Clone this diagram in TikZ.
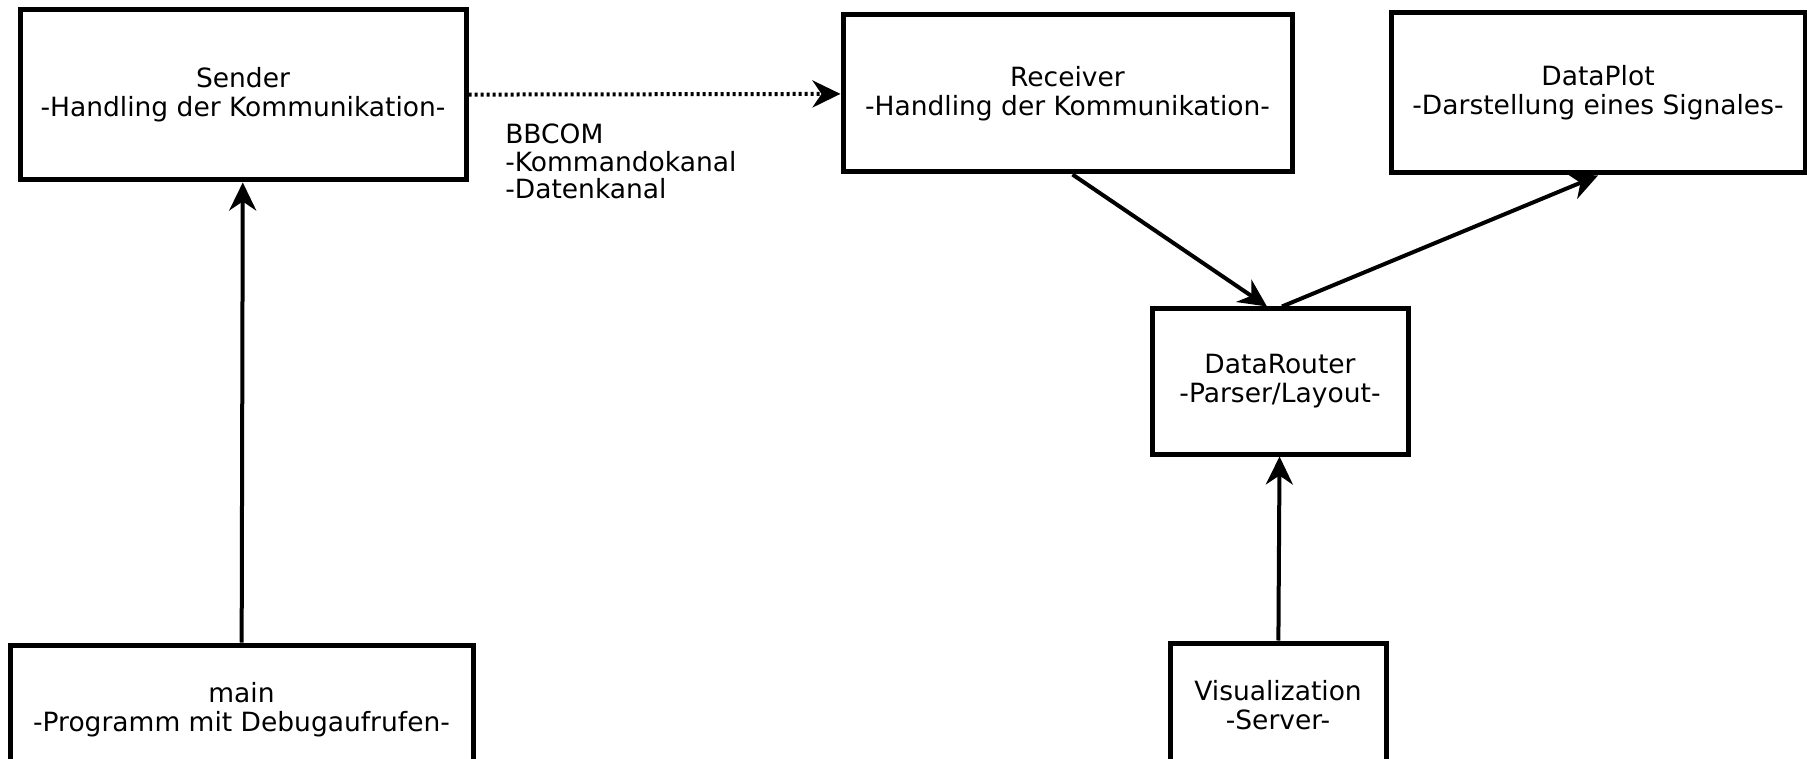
\documentclass[tikz,border=0pt]{standalone}
\usepackage{fontspec}
\setmainfont{DejaVu Sans}
\usetikzlibrary{arrows.meta}

\begin{document}
\begin{tikzpicture}[x=1pt,y=-1pt,semithick]
        \tikzstyle{modulbox}=[
            rectangle,
            draw=black,
            line width=5pt,
            align=center,
            inner sep=0pt,
            font=\fontsize{26.5}{29}\selectfont
        ]
        \tikzstyle{pfeil}=[
            -{Stealth[length=28pt,width=27pt,inset=9pt]},
            line width=4pt
        ]

        \useasboundingbox (0,0) rectangle (1807,759);
        \clip (0,0) rectangle (1807,759);

        \node[modulbox, minimum width=446pt, minimum height=170pt] (Sender) at (243,95){Sender\\-Handling der Kommunikation-};
        \node[modulbox, minimum width=463pt, minimum height=130pt] (main) at (241.5,710){main\\-Programm mit Debugaufrufen-};
        \node[modulbox, minimum width=449pt, minimum height=157pt] (Receiver) at (1067.5,93.5){Receiver\\-Handling der Kommunikation-};
        \node[modulbox, minimum width=414pt, minimum height=160pt] (DataPlot) at (1598,93){DataPlot\\-Darstellung eines Signales-};
        \node[modulbox, minimum width=256pt, minimum height=145pt] (DataRouter) at (1280,381.5){DataRouter\\-Parser/Layout-};
        \node[modulbox, minimum width=216pt, minimum height=124pt] (Visualization) at (1278,705){Visualization\\-Server-};

        \node[anchor=north west, align=left, inner sep=0pt, font=\fontsize{26.5}{27.5}\selectfont] (bbcom) at (505,124){BBCOM\\-Kommandokanal\\-Datenkanal};

        \draw[pfeil, dash pattern=on 3pt off 3pt] (Sender) -- (Receiver);
        \draw[pfeil] (main) -- (Sender);
        \draw[pfeil] ([xshift=5pt]Receiver.south) -- ([xshift=-13pt]DataRouter.north);
        \draw[pfeil] ([xshift=2pt]DataRouter.north) -- (DataPlot.south);
        \draw[pfeil] (Visualization) -- (DataRouter);

    \end{tikzpicture}
\end{document}
